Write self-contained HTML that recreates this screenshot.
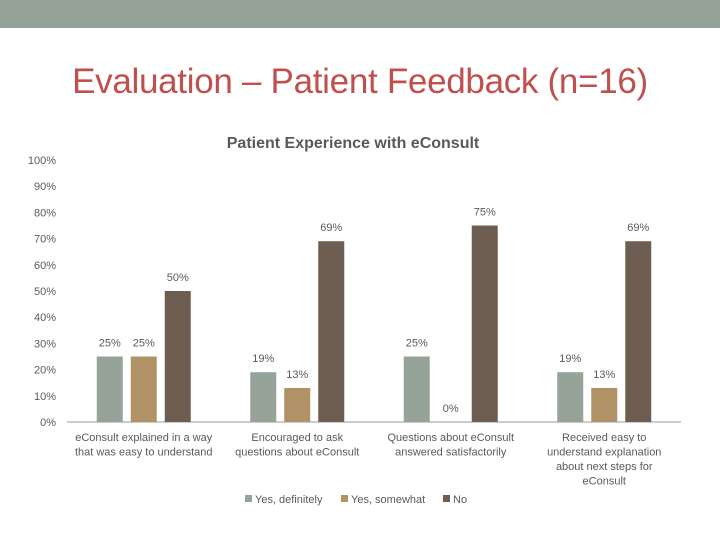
<!DOCTYPE html>
<html><head><meta charset="utf-8"><style>
body{margin:0;width:720px;height:540px;background:#fff;overflow:hidden;font-family:"Liberation Sans",sans-serif}
</style></head><body>
<div style="position:absolute;left:0;top:0;width:720px;height:28px;background:#94a297"></div>
<div style="position:absolute;left:0;top:62px;width:720px;text-align:center;font-size:35px;color:#c0504d;letter-spacing:-0.3px">Evaluation – Patient Feedback (n=16)</div>
<svg id="chart" width="720" height="540" style="position:absolute;left:0;top:0" font-family="Liberation Sans, sans-serif"></svg>
<script>
const categories=[["eConsult explained in a way","that was easy to understand"],["Encouraged to ask","questions about eConsult"],["Questions about eConsult","answered satisfactorily"],["Received easy to","understand explanation","about next steps for","eConsult"]];
const seriesNames=["Yes, definitely","Yes, somewhat","No"];
const yesDef=[25,19,25,19];
const yesSome=[25,13,0,13];
const no=[50,69,75,69];
const yTicks=[0,10,20,30,40,50,60,70,80,90,100];
const colors=["#95a398","#b09266","#6e5e52"];
const svg=document.getElementById('chart');const NS="http://www.w3.org/2000/svg";
function mk(t,a,txt){const e=document.createElementNS(NS,t);for(const k in a)e.setAttribute(k,a[k]);if(txt!==undefined)e.textContent=txt;svg.appendChild(e);return e;}
const x0=67,x1=681,y0=422,y100=160;
const y=v=>y0-(y0-y100)*v/100;
const gw=(x1-x0)/categories.length;
const gx=i=>x0+gw*(i+0.5);
let t=mk('text',{x:353,y:148,'text-anchor':'middle','font-size':16,'font-weight':'bold',fill:'#595959'},'Patient Experience with eConsult');


yTicks.forEach(v=>{const e=mk('text',{x:56,y:y(v)+4,'text-anchor':'end','font-size':11,fill:'#595959'},v+'%');

});
let ax=mk('line',{x1:x0,y1:y0,x2:x1,y2:y0,stroke:'#999','stroke-width':1});


const series=[yesDef,yesSome,no];
const bw=26,step=34;
series.forEach((s,si)=>{s.forEach((v,i)=>{
const bx=gx(i)+(si-1)*step-bw/2;
const r=mk('rect',{x:bx,y:y(v),width:bw,height:y0-y(v),fill:colors[si]});


const l=mk('text',{x:bx+bw/2,y:y(v)-10,'text-anchor':'middle','font-size':11,fill:'#595959'},v+'%');


});});
categories.forEach((c,i)=>{c.forEach((ln,j)=>{const e=mk('text',{x:gx(i),y:441+j*14.5,'text-anchor':'middle','font-size':11,fill:'#595959'},ln);

});});
const lx=[245,341,443];
seriesNames.forEach((n,i)=>{
const r=mk('rect',{x:lx[i],y:495,width:7,height:7,fill:colors[i]});


const e=mk('text',{x:lx[i]+10,y:503,'font-size':11,fill:'#595959'},n);


});
</script>
</body></html>
